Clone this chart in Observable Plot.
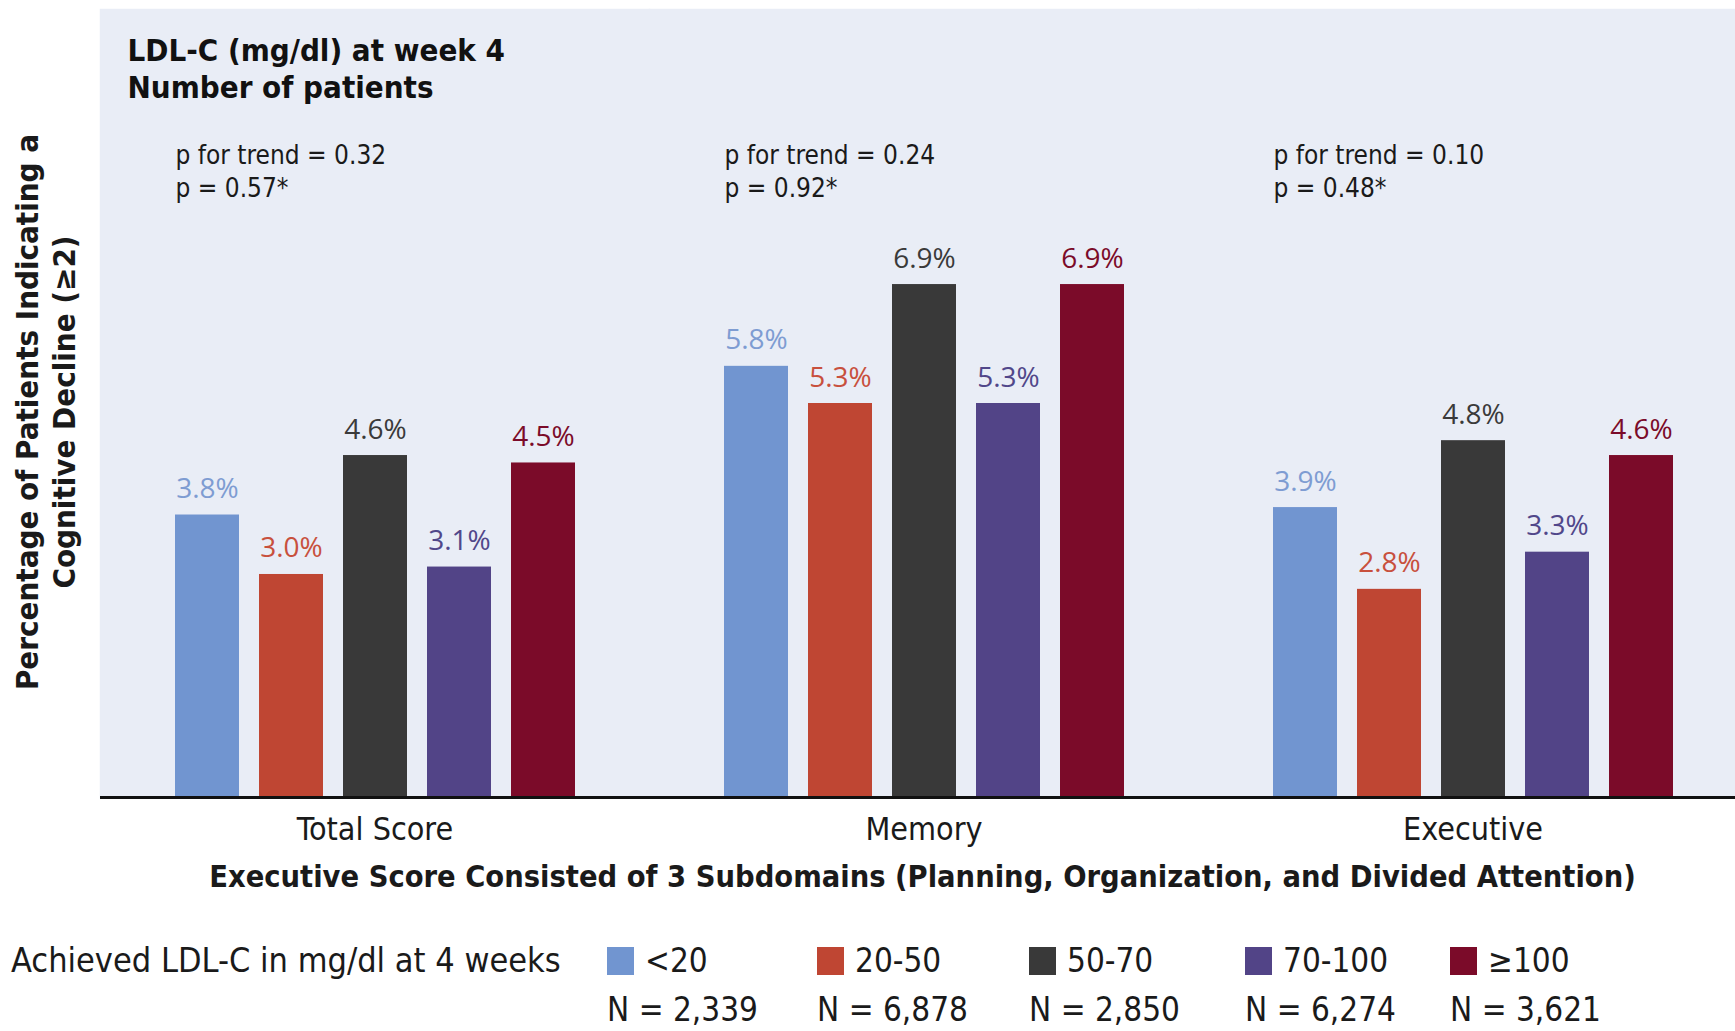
<!DOCTYPE html>
<html>
<head>
<meta charset="utf-8">
<script src="https://cdn.jsdelivr.net/npm/d3@7"></script>
<script src="https://cdn.jsdelivr.net/npm/@observablehq/plot@0.6"></script>
<style>
  body { margin: 0; background: #ffffff; }
  #wrap { position: relative; width: 1735px; height: 1031px; overflow: hidden;
    font-family: "Liberation Sans Narrow", "DejaVu Sans Condensed", "Open Sans", sans-serif; color: #1a1a1a; }
  #chart { position: absolute; left: 0; top: 0; }
  #ytitle { position: absolute; width: 700px; left: -303px; top: 374px; height: 76px;
    transform: rotate(-90deg); text-align: center; font-weight: bold; font-size: 31px; line-height: 37px; }
  #subtitle { position: absolute; left: 0; width: 1845px; top: 859px; text-align: center; font-weight: bold; font-size: 30.5px; }
  #legend { position: absolute; left: 0; top: 937px; width: 1735px; height: 95px; font-size: 33px; }
  .lgTitle { position: absolute; left: 11px; font-size: 34px; top: 3px; }
  .sw { position: absolute; width: 27px; height: 28px; top: 10px; }
  .lgLab { position: absolute; top: 4px; }
  .lgN { position: absolute; top: 53px; }
  svg g[aria-label^="y-axis"] * { stroke-width: 3px; stroke: #111; }
</style>
</head>
<body>
<div id="wrap">
  <div id="chart"></div>
  <div id="ytitle">Percentage of Patients Indicating a<br>Cognitive Decline (≥2)</div>
  <div id="subtitle">Executive Score Consisted of 3 Subdomains (Planning, Organization, and Divided Attention)</div>
  <div id="legend"></div>
</div>
<script>
// ---- data ----
const groups = ["Total Score", "Memory", "Executive"];
const categories = ["<20", "20-50", "50-70", "70-100", "≥100"];
const patientCounts = ["N = 2,339", "N = 6,878", "N = 2,850", "N = 6,274", "N = 3,621"];
const totalScoreValues = [3.8, 3.0, 4.6, 3.1, 4.5];
const memoryValues = [5.8, 5.3, 6.9, 5.3, 6.9];
const executiveValues = [3.9, 2.8, 4.8, 3.3, 4.6];
const pTrend = ["0.32", "0.24", "0.10"];
const pStar = ["0.57", "0.92", "0.48"];
const barColors = ["#7195d0", "#bf4633", "#393939", "#524487", "#7b0b29"];
const labelColors = ["#7e9cd2", "#c8503d", "#3a3a3a", "#51478a", "#7b0b29"];
const legendTitle = "Achieved LDL-C in mg/dl at 4 weeks";
const chartTitle = "LDL-C (mg/dl) at week 4\nNumber of patients";

const seriesByGroup = [totalScoreValues, memoryValues, executiveValues];
const rows = [];
groups.forEach((g, gi) => categories.forEach((c, ci) => rows.push({group: g, cat: c, value: seriesByGroup[gi][ci], ci})));
const pRows = groups.map((g, i) => ({group: g, text: `p for trend = ${pTrend[i]}\np = ${pStar[i]}*`}));

const narrow = '"Liberation Sans Narrow", "DejaVu Sans Condensed", "Open Sans", sans-serif';
const panelFill = "#e9edf6";

const plot = Plot.plot({
  width: 1735,
  height: 860,
  marginLeft: 99,
  marginRight: -13,
  marginTop: 9,
  marginBottom: 63,
  style: {fontFamily: narrow, fontSize: "32px", color: "#1a1a1a", background: "transparent", overflow: "hidden"},
  fx: {domain: groups, padding: 0, label: null, axis: "bottom", tickSize: 0, tickPadding: 20},
  x: {domain: categories, paddingInner: 0.243, paddingOuter: 0.87, axis: null},
  y: {domain: [0, 10.6], axis: "left", ticks: [], line: true, label: null, tickSize: 0},
  color: {domain: categories, range: barColors},
  marks: [
    Plot.frame({fill: panelFill, stroke: panelFill, strokeWidth: 1.5}),
    Plot.barY(rows, {fx: "group", x: "cat", y: "value", fill: "cat"}),
    Plot.text(rows, {fx: "group", x: "cat", y: "value", text: d => d.value.toFixed(1) + "%",
      fill: d => labelColors[d.ci], dy: -17, lineAnchor: "bottom", fontSize: 28, fontFamily: '"Open Sans", sans-serif'}),
    Plot.ruleY([0], {stroke: "#111", strokeWidth: 3}),
    Plot.text(pRows, {fx: "group", x: () => categories[0], text: "text", frameAnchor: "top",
      textAnchor: "start", lineAnchor: "top", dx: -32, dy: 130, fontSize: 26, lineHeight: 1.3, fill: "#1a1a1a"}),
    Plot.text([{group: groups[0]}], {fx: "group", text: () => chartTitle, frameAnchor: "top-left",
      textAnchor: "start", lineAnchor: "top", dx: 27, dy: 25, fontSize: 31, fontWeight: "bold", lineHeight: 1.19, fill: "#111"})
  ]
});
document.getElementById("chart").appendChild(plot);

// legend
const legend = document.getElementById("legend");
const t = document.createElement("div");
t.className = "lgTitle"; t.textContent = legendTitle; legend.appendChild(t);
const legendX = [607, 817, 1029, 1245, 1450];
categories.forEach((c, i) => {
  const sw = document.createElement("div");
  sw.className = "sw"; sw.style.left = legendX[i] + "px"; sw.style.background = barColors[i];
  legend.appendChild(sw);
  const lab = document.createElement("div");
  lab.className = "lgLab"; lab.style.left = (legendX[i] + 38) + "px"; lab.textContent = c;
  legend.appendChild(lab);
  const n = document.createElement("div");
  n.className = "lgN"; n.style.left = legendX[i] + "px"; n.textContent = patientCounts[i];
  legend.appendChild(n);
});
</script>
</body>
</html>
